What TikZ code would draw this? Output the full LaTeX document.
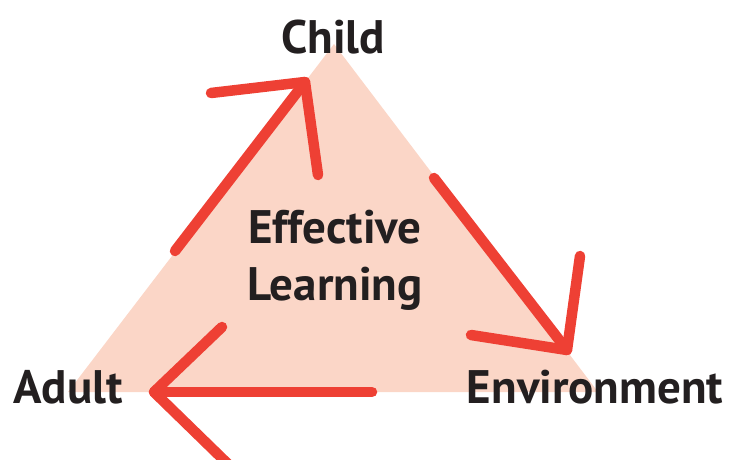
\documentclass[tikz,border=0pt]{standalone}
\usepackage{fontspec}
\setmainfont{PT Sans}
\definecolor{arrowred}{RGB}{238,64,52}
\definecolor{trifill}{RGB}{251,214,199}
\definecolor{textblack}{RGB}{35,31,32}
\begin{document}
\begin{tikzpicture}[x=1pt,y=-1pt,
  arr/.style={draw=arrowred, line width=10.5pt, line cap=round, line join=round},
  lbl/.style={font=\bfseries\fontsize{47}{50}\selectfont, inner sep=0pt, text=textblack, anchor=base}]
\useasboundingbox (0,0) rectangle (736,460);
% triangle
\coordinate (top) at (334,44);
\coordinate (bl) at (68,392);
\coordinate (br) at (598,392);
\fill[trifill] (top) -- (bl) -- (br) -- cycle;
% labels
\node[lbl] (child) at (333,54) {Child};
\node[lbl] (adult) at (68,403) {Adult};
\node[lbl] (env) at (595,403) {Environment};
\node[lbl] (eff) at (335,243) {Effective};
\node[lbl] (learn) at (335,300) {Learning};
% arrow 1: Adult -> Child
\coordinate (a1s) at (175,251);
\coordinate (a1t) at (305,82);
\coordinate (a1l) at (211,93);
\coordinate (a1r) at (318,175);
\draw[arr] (a1s) -- (a1t);
\draw[arr] (a1l) -- (a1t) -- (a1r);
% arrow 2: Child -> Environment
\coordinate (a2s) at (434,178);
\coordinate (a2t) at (567,350);
\coordinate (a2l) at (580,256);
\coordinate (a2r) at (471,335);
\draw[arr] (a2s) -- (a2t);
\draw[arr] (a2l) -- (a2t) -- (a2r);
% arrow 3: Environment -> Adult
\coordinate (a3s) at (372,392);
\coordinate (a3t) at (154,392);
\coordinate (a3u) at (222,327);
\coordinate (a3d) at (230,466);
\draw[arr] (a3s) -- (a3t);
\draw[arr] (a3u) -- (a3t) -- (a3d);
\end{tikzpicture}
\end{document}
